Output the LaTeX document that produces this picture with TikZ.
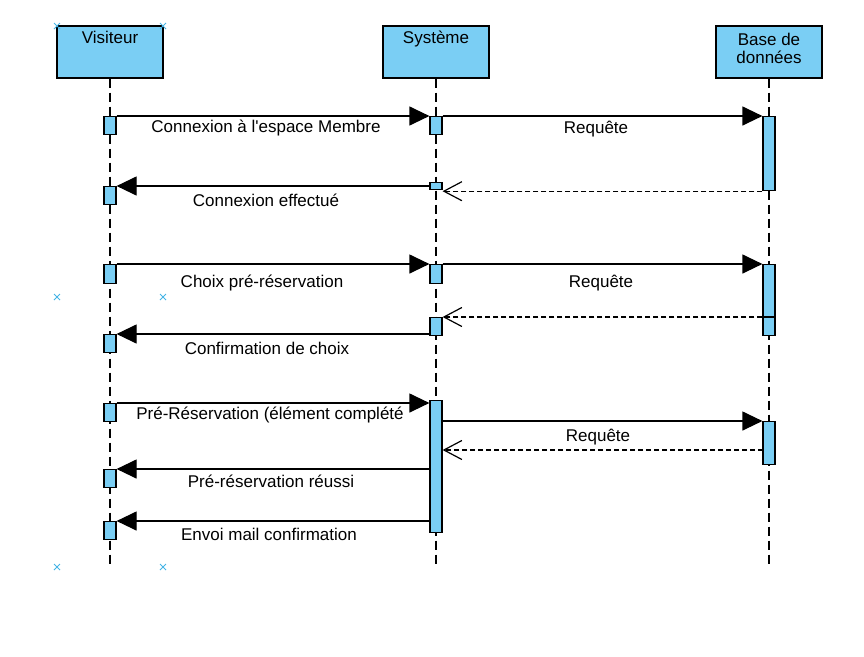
\documentclass[tikz,border=0pt]{standalone}
\usepackage{fontspec}
\setmainfont{Liberation Sans}
\usetikzlibrary{arrows.meta,calc}
\definecolor{actblue}{RGB}{122,206,244}
\definecolor{crossblue}{RGB}{70,180,230}
\tikzset{
  hdr/.style={draw=black, fill=actblue, line width=1.2pt, minimum width=106pt, minimum height=52pt, inner sep=0pt},
  act/.style={draw=black, fill=actblue, line width=1.2pt, minimum width=12pt, inner sep=0pt, anchor=north},
  life/.style={line width=1.2pt, dash pattern=on 9pt off 5pt},
  msg/.style={line width=1.2pt, -{Triangle[length=20pt,width=19pt]}},
  ret/.style={line width=1.2pt, dash pattern=on 5pt off 3pt, -{Straight Barb[length=18pt,width=19pt]}},
  txt/.style={anchor=base, inner sep=0pt, font=\fontsize{17}{20}\selectfont},
  crs/.style={draw=crossblue, line width=1pt}
}
\begin{document}
\begin{tikzpicture}[x=1pt,y=-1pt]
\useasboundingbox (0,0) rectangle (864,656);
% headers
\node[hdr] (vis) at (110,52) {};
\node[hdr] (sys) at (436,52) {};
\node[hdr] (bdd) at (769,52) {};
\node[txt] (tvis) at (110,43) {Visiteur};
\node[txt] (tsys) at (436,43) {Système};
\node[txt] (tbdd1) at (769,45) {Base de};
\node[txt] (tbdd2) at (769,63) {données};
% lifelines
\coordinate (vend) at (110,568);
\coordinate (send) at (436,568);
\coordinate (bend) at (769,568);
\draw[life] (vis.south) -- (vend);
\draw[life] (sys.south) -- (send);
\draw[life] (bdd.south) -- (bend);
% activation boxes
\node[act, minimum height=18pt] (v1) at (110,116) {};
\node[act, minimum height=18pt] (s1) at (436,116) {};
\node[act, minimum height=74pt] (b1) at (769,116) {};
\node[act, minimum height=7pt] (s2) at (436,182) {};
\node[act, minimum height=18pt] (v2) at (110,186) {};
\node[act, minimum height=19pt] (v3) at (110,264) {};
\node[act, minimum height=19pt] (s3) at (436,264) {};
\node[act, minimum height=71pt] (b2) at (769,264) {};
\node[act, minimum height=18pt] (s4) at (436,317) {};
\node[act, minimum height=18pt] (v4) at (110,334) {};
\node[act, minimum height=18pt] (v5) at (110,403) {};
\node[act, minimum height=132pt] (s5) at (436,400) {};
\node[act, minimum height=43pt] (b3) at (769,421) {};
\node[act, minimum height=18pt] (v6) at (110,469) {};
\node[act, minimum height=18pt] (v7) at (110,521) {};
% block 1
\draw[msg] (v1.north east) -- (s1.north west);
\draw[msg] (s1.north east) -- (b1.north west);
\draw[ret] (b1.south west) -- (b1.south west -| s2.east);
\draw[msg] (s2.west |- v2.north) -- (v2.north east);
% block 2
\draw[msg] (v3.north east) -- (s3.north west);
\draw[msg] (s3.north east) -- (b2.north west);
\draw[line width=1.2pt] (b2.east |- s4.north) -- (b2.west |- s4.north);
\draw[ret] (b2.west |- s4.north) -- (s4.north east);
\draw[msg] (s4.west |- v4.north) -- (v4.north east);
% block 3
\draw[msg] (v5.north east) -- (v5.north east -| s5.west);
\draw[msg] (s5.east |- b3.north) -- (b3.north west);
\coordinate (r3) at (763,450);
\draw[ret] (r3) -- (r3 -| s5.east);
\draw[msg] (s5.west |- v6.north) -- (v6.north east);
\draw[msg] (s5.west |- v7.north) -- (v7.north east);
% labels
\node[txt] (l1) at (266,132) {Connexion à l\textquotesingle espace Membre};
\node[txt] (l2) at (596,133) {Requête};
\node[txt] (l3) at (266,206) {Connexion effectué};
\node[txt] (l4) at (262,287) {Choix pré-réservation};
\node[txt] (l5) at (601,287) {Requête};
\node[txt] (l6) at (267,354) {Confirmation de choix};
\node[txt] (l7) at (270,419) {Pré-Réservation (élément complété};
\node[txt] (l8) at (598,441) {Requête};
\node[txt] (l9) at (271,487) {Pré-réservation réussi};
\node[txt] (l10) at (269,540) {Envoi mail confirmation};
% crosses
\foreach \cx/\cy in {57/26,163/26,57/297,163/297,57/567,163/567}
  \draw[crs] (\cx,\cy) +(-3,-3) -- +(3,3) +(-3,3) -- +(3,-3);
\end{tikzpicture}
\end{document}
